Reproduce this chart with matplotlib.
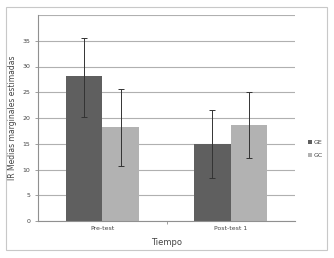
import matplotlib.pyplot as plt
import numpy as np
from matplotlib.patches import Rectangle

categories = ["Pre-test", "Post-test 1"]
groups = ["GE", "GC"]
ge_means = [28.1, 15.0]
gc_means = [18.2, 18.7]
ge_low = [20.2, 8.3]
ge_high = [35.5, 21.5]
gc_low = [10.6, 12.2]
gc_high = [25.7, 25.0]

colors = ["#5f5f5f", "#b2b2b2"]

fig = plt.figure(figsize=(3.34, 2.58), dpi=100)
fig.patches.append(Rectangle((6 / 334, 8 / 258), 321 / 334, 243 / 258, transform=fig.transFigure,
                             fill=False, edgecolor="#c8c8c8", linewidth=0.8))
ax = fig.add_axes([38 / 334, 1 - 221 / 258, 257 / 334, 206 / 258])

x = np.arange(len(categories))
w = 0.285
for i, (means, lo, hi) in enumerate([(ge_means, ge_low, ge_high), (gc_means, gc_low, gc_high)]):
    pos = x + (i - 0.5) * w
    means = np.array(means)
    yerr = [means - np.array(lo), np.array(hi) - means]
    ax.bar(pos, means, width=w, color=colors[i], label=groups[i], zorder=2)
    ax.errorbar(pos, means, yerr=yerr, fmt="none", ecolor="#333333", elinewidth=0.7,
                capsize=2.5, capthick=0.7, zorder=3)

ax.set_xlim(-0.5, 1.5)
ax.set_ylim(0, 40)
ax.set_yticks(np.arange(0, 40, 5))
ax.set_xticks(x)
ax.set_xticklabels(categories)
ax.yaxis.grid(True, color="#b0b0b0", linewidth=0.8, zorder=0)
ax.axhline(40, color="#b0b0b0", linewidth=0.8, zorder=0)
ax.set_axisbelow(True)
for s in ["top", "right"]:
    ax.spines[s].set_visible(False)
for s in ["left", "bottom"]:
    ax.spines[s].set_color("#909090")
    ax.spines[s].set_linewidth(0.8)
ax.tick_params(axis="both", labelsize=4.5, colors="#909090", labelcolor="#444444", length=2, width=0.6)
ax.set_xticks([0.5], minor=True)
ax.tick_params(axis="x", which="minor", length=2, color="#909090")
ax.tick_params(axis="x", which="major", length=0)
ax.set_ylabel("IR Medias marginales estimadas", fontsize=5.5, color="#444444", labelpad=4)
ax.set_xlabel("Tiempo", fontsize=6, color="#444444", labelpad=5)

leg = ax.legend(loc="center left", bbox_to_anchor=(1.03, 0.35), fontsize=4.5, frameon=False,
                handlelength=0.6, handleheight=0.6, handletextpad=0.3, labelspacing=1.3)
for t in leg.get_texts():
    t.set_color("#444444")

fig.savefig("out.png", dpi=100)
